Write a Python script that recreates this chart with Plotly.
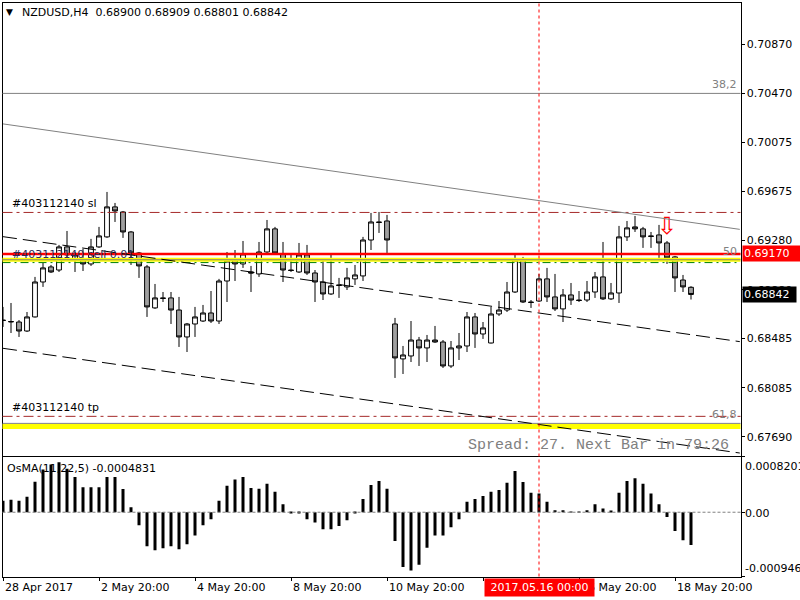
import plotly.graph_objects as go

# ---------------- data ----------------
bars = list(range(87))

opens = [0.68635,0.68619,0.68619,0.68546,0.68660,0.68943,0.69065,0.69040,0.69227,0.69130,
         0.69130,0.69089,0.69227,0.69308,0.69551,0.69510,0.69348,0.69178,0.69065,0.68733,
         0.68814,0.68814,0.68716,0.68498,0.68603,0.68627,0.68692,0.68627,0.68951,0.69121,
         0.69089,0.69024,0.69008,0.69186,0.69373,0.69170,0.69040,0.69024,0.69162,0.69016,
         0.68943,0.68846,0.68919,0.68903,0.68968,0.68992,0.69283,0.69429,0.69437,0.68603,
         0.68320,0.68344,0.68473,0.68409,0.68473,0.68457,0.68263,0.68409,0.68425,0.68660,
         0.68522,0.68449,0.68684,0.68716,0.68862,0.69121,0.68781,0.68789,0.68968,0.68822,
         0.68725,0.68838,0.68797,0.68797,0.68862,0.68984,0.68806,0.68854,0.69308,0.69389,
         0.69373,0.69316,0.69324,0.69259,0.69146,0.68959,0.68900]

highs = [0.68741,0.68773,0.68635,0.68700,0.68984,0.69097,0.69081,0.69243,0.69356,0.69186,
         0.69211,0.69292,0.69389,0.69672,0.69583,0.69518,0.69356,0.69186,0.69081,0.68927,
         0.68862,0.68862,0.68822,0.68611,0.68741,0.68757,0.68870,0.68968,0.69186,0.69202,
         0.69275,0.69073,0.69267,0.69445,0.69389,0.69267,0.69162,0.69259,0.69243,0.69040,
         0.69121,0.69162,0.68976,0.69057,0.69081,0.69308,0.69502,0.69510,0.69486,0.68652,
         0.68425,0.68627,0.68498,0.68514,0.68587,0.68473,0.68465,0.68530,0.68700,0.68692,
         0.68619,0.68741,0.68789,0.68943,0.69162,0.69146,0.68797,0.69008,0.69057,0.69008,
         0.68886,0.68935,0.68870,0.68951,0.69024,0.69267,0.68935,0.69397,0.69437,0.69478,
         0.69389,0.69348,0.69405,0.69275,0.69154,0.69000,0.68909]

lows = [0.68579,0.68530,0.68498,0.68538,0.68655,0.68903,0.69016,0.69024,0.69146,0.69024,
        0.69032,0.69073,0.69219,0.69300,0.69429,0.69300,0.69081,0.68976,0.68660,0.68725,
        0.68781,0.68603,0.68417,0.68376,0.68498,0.68619,0.68611,0.68603,0.68781,0.68951,
        0.69057,0.68862,0.68984,0.69178,0.69170,0.68943,0.69024,0.69016,0.69000,0.68781,
        0.68797,0.68838,0.68814,0.68878,0.68919,0.68951,0.69202,0.69340,0.69178,0.68166,
        0.68198,0.68295,0.68263,0.68295,0.68450,0.68247,0.68247,0.68311,0.68376,0.68409,
        0.68482,0.68445,0.68668,0.68700,0.68854,0.68773,0.68733,0.68781,0.68781,0.68708,
        0.68619,0.68757,0.68781,0.68781,0.68814,0.68797,0.68797,0.68773,0.69275,0.69348,
        0.69219,0.69219,0.69130,0.69089,0.68862,0.68862,0.68801]

closes = [0.68631,0.68623,0.68546,0.68660,0.68943,0.69057,0.69024,0.69227,0.69162,0.69162,
          0.69089,0.69227,0.69316,0.69551,0.69518,0.69348,0.69178,0.69073,0.68741,0.68814,
          0.68810,0.68716,0.68498,0.68603,0.68660,0.68692,0.68627,0.68951,0.69113,0.69089,
          0.69170,0.69016,0.69186,0.69373,0.69178,0.69040,0.69036,0.69162,0.69016,0.68943,
          0.68846,0.68911,0.68915,0.68976,0.69000,0.69283,0.69429,0.69425,0.69283,0.68328,
          0.68352,0.68473,0.68409,0.68473,0.68457,0.68263,0.68409,0.68425,0.68660,0.68522,
          0.68571,0.68684,0.68716,0.68862,0.69121,0.68781,0.68777,0.68968,0.68822,0.68725,
          0.68838,0.68797,0.68793,0.68862,0.68984,0.68806,0.68854,0.69308,0.69381,0.69373,
          0.69308,0.69312,0.69259,0.69138,0.68976,0.68903,0.68842]

osma = [0.000168,0.000183,0.000168,0.000228,0.000450,0.000628,0.000702,0.000737,0.000638,0.000519,
        0.000366,0.000366,0.000366,0.000519,0.000519,0.000341,0.000074,-0.000193,-0.000500,-0.000559,
        -0.000529,-0.000500,-0.000544,-0.000470,-0.000341,-0.000193,-0.000104,0.000168,0.000391,0.000480,
        0.000519,0.000356,0.000346,0.000420,0.000302,0.000119,-0.000020,-0.000010,-0.000104,-0.000153,
        -0.000252,-0.000252,-0.000203,-0.000119,-0.000020,0.000193,0.000401,0.000460,0.000346,-0.000425,
        -0.000806,-0.000856,-0.000772,-0.000524,-0.000341,-0.000341,-0.000223,-0.000104,0.000153,0.000193,
        0.000237,0.000302,0.000327,0.000435,0.000608,0.000445,0.000287,0.000277,0.000153,0.000030,
        0.000030,0.000010,0.000005,0.000030,0.000119,0.000054,0.000020,0.000287,0.000460,0.000500,
        0.000420,0.000277,0.000119,-0.000069,-0.000277,-0.000411,-0.0004831]

price_ticks = [0.70870, 0.70470, 0.70075, 0.69675, 0.69280, 0.68880, 0.68485, 0.68085, 0.67690]
time_tick_bars = [0, 12, 24, 36, 48, 60, 72, 84]
time_tick_labels = ["28 Apr 2017", "2 May 20:00", "4 May 20:00", "8 May 20:00",
                    "10 May 20:00", "12 May 20:00", "16 May 20:00", "18 May 20:00"]
osma_ticks = [0.0008201, 0.0, -0.000946]
osma_tick_labels = ["0.0008201", "0.00", "-0.000946"]

fib_levels = ["38,2", "50", "61,8"]
fib_prices = [0.70470, 0.69123, 0.67798]
yellow_prices = [0.69123, 0.67772]
yellow_widths = [4, 5]
hline_price = 0.69170
order_price = 0.69100
sl_price = 0.69506
tp_price = 0.67855
last_price = 0.68842
trend_x = [0, 92.1]
trend_gray = [0.70223, 0.69369]
chan_upper = [0.69310, 0.68460]
chan_lower = [0.68406, 0.67558]
cursor_bar = 67
cursor_label = "2017.05.16 00:00"
arrow_bar = 83
arrow_price = 0.69380
title_text = "NZDUSD,H4  0.68900 0.68909 0.68801 0.68842"
osma_text = "OsMA(11,22,5) -0.0004831"
spread_text = "Spread: 27. Next Bar in 79:26"

# ---------------- layout geometry ----------------
W, H = 800, 600
xd = [2.5 / W, 740.5 / W]
yd_main = [1 - 455.5 / H, 1 - 2.5 / H]
yd_sub = [1 - 576.5 / H, 1 - 456.5 / H]
xrange_ = [-0.0625, 92.1875]
FONT = "DejaVu Sans"

fig = go.Figure()
fig.add_trace(go.Candlestick(
    x=bars, open=opens, high=highs, low=lows, close=closes,
    increasing=dict(line=dict(color="black", width=1), fillcolor="white"),
    decreasing=dict(line=dict(color="black", width=1), fillcolor="#a0a0a0"),
    whiskerwidth=0, xaxis="x", yaxis="y", hoverinfo="skip"))

fig.add_trace(go.Bar(x=bars, y=osma, width=0.375, marker=dict(color="black", line=dict(width=0)),
                     xaxis="x2", yaxis="y2", hoverinfo="skip"))

fig.add_trace(go.Scatter(x=[arrow_bar], y=[arrow_price], mode="text", text=["⇩"],
                         textfont=dict(family=FONT, size=24, color="red"),
                         xaxis="x", yaxis="y", hoverinfo="skip"))

shapes = []
def hline(y, color, width, dash="solid"):
    shapes.append(dict(type="line", xref="x domain", yref="y", x0=0, x1=1, y0=y, y1=y,
                       line=dict(color=color, width=width, dash=dash)))

for p, w in zip(yellow_prices, yellow_widths):
    hline(p, "#ffff00", w)
for p in fib_prices:
    hline(p, "#808080", 1)
hline(order_price, "#008000", 1, "8px,4px,2px,4px")
hline(sl_price, "#a52a2a", 1, "10px,4px,3px,4px")
hline(tp_price, "#a52a2a", 1, "10px,4px,3px,4px")
hline(hline_price, "#ff0000", 2.5)

shapes.append(dict(type="line", xref="x", yref="y", x0=trend_x[0], x1=trend_x[1],
                   y0=trend_gray[0], y1=trend_gray[1], line=dict(color="#808080", width=1)))
for ch in (chan_upper, chan_lower):
    shapes.append(dict(type="line", xref="x", yref="y", x0=trend_x[0], x1=trend_x[1],
                       y0=ch[0], y1=ch[1], line=dict(color="black", width=1, dash="14px,6px")))
# zero line in OsMA window
shapes.append(dict(type="line", xref="x2 domain", yref="y2", x0=0, x1=1, y0=0, y1=0,
                   line=dict(color="#808080", width=1, dash="3px,2px")))
# cursor
shapes.append(dict(type="line", xref="x", yref="paper", x0=cursor_bar, x1=cursor_bar,
                   y0=yd_sub[0], y1=yd_main[1], line=dict(color="red", width=1, dash="3px,3px")))

ann = []
def txt(x, y, text, xref="paper", yref="paper", xanchor="left", yanchor="middle",
        color="black", size=11, family=FONT, **kw):
    d = dict(x=x, y=y, xref=xref, yref=yref, text=text, showarrow=False, xanchor=xanchor,
             yanchor=yanchor, font=dict(family=family, size=size, color=color))
    d.update(kw)
    ann.append(d)

txt(4 / W, 1 - 11.5 / H, "▼", size=9)
txt(20 / W, 1 - 12 / H, title_text)
txt(5 / W, 1 - 468 / H, osma_text)
txt(10 / W, sl_price, "#403112140 sl", yref="y", yanchor="bottom")
txt(10 / W, order_price, "#403112140 sell 0.01", yref="y", yanchor="bottom", color="#2b2b55")
txt(10 / W, tp_price, "#403112140 tp", yref="y", yanchor="bottom")
for lab, p in zip(fib_levels, fib_prices):
    txt(739 / W, p, lab, yref="y", xanchor="right", yanchor="bottom", color="#808080")
txt(731 / W, 1 - 445 / H, spread_text, xanchor="right", color="#808080", size=15,
    family="Liberation Mono")
for b, lab in zip(time_tick_bars, time_tick_labels):
    txt(b, 1 - 587.5 / H, lab, xref="x2", xanchor="left")
txt(cursor_bar, 1 - 587.5 / H, cursor_label, xref="x2", xanchor="center", color="white",
    bgcolor="red", borderpad=2, width=105)
for lab, yp in zip(osma_tick_labels, [466.7, 513.3, 568.3]):
    txt(743 / W, 1 - yp / H, lab)
txt(741.5 / W, hline_price, "0.69170", yref="y", color="white", bgcolor="red",
    borderpad=1, width=56, align="left")
txt(741.5 / W, last_price, "0.68842", yref="y", color="white", bgcolor="black",
    borderpad=1, width=51, align="left")

axis_common = dict(showgrid=False, zeroline=False, showline=True, mirror=True,
                   linecolor="black", linewidth=1)
fig.update_layout(
    width=W, height=H, margin=dict(l=0, r=0, t=0, b=0),
    paper_bgcolor="white", plot_bgcolor="white", showlegend=False,
    boxgap=0.4, boxgroupgap=0.0,
    xaxis=dict(domain=xd, range=xrange_, anchor="y", showticklabels=False, ticks="",
               rangeslider=dict(visible=False), **axis_common),
    yaxis=dict(domain=yd_main, range=[0.67538, 0.71206], anchor="x", side="right",
               tickvals=price_ticks, ticktext=[f"{v:.5f}" for v in price_ticks],
               ticks="outside", ticklen=3, tickcolor="black",
               tickfont=dict(family=FONT, size=11, color="black"), **axis_common),
    xaxis2=dict(domain=xd, range=xrange_, anchor="y2", tickvals=time_tick_bars,
                showticklabels=False, ticks="outside", ticklen=3, tickcolor="black", **axis_common),
    yaxis2=dict(domain=yd_sub, range=[-0.000946, 0.0008201], anchor="x2", side="right",
                tickvals=osma_ticks, showticklabels=False, ticks="outside", ticklen=3,
                tickcolor="black", **axis_common),
    shapes=shapes, annotations=ann,
    font=dict(family=FONT, size=11, color="black"),
)

fig.write_html("out.html")
